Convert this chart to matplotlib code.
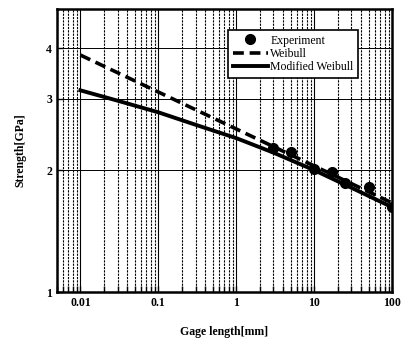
import matplotlib
matplotlib.use("Agg")
import matplotlib.pyplot as plt
from matplotlib.ticker import FixedLocator, FixedFormatter, LogLocator, NullFormatter, NullLocator

plt.rcParams['font.family'] = ['Liberation Serif', 'DejaVu Serif']

# measured strengths
exp_len = [3, 5, 10, 17, 25, 50, 100]
exp_str = [2.27, 2.22, 2.01, 1.98, 1.86, 1.82, 1.62]

# Weibull prediction
wb_len = [0.01, 100]
wb_str = [3.85, 1.66]

# modified Weibull prediction
mwb_len = [0.01, 0.03, 0.1, 0.3, 1, 3, 10, 30, 100]
mwb_str = [3.15, 2.97, 2.78, 2.59, 2.40, 2.21, 2.00, 1.81, 1.62]

xticks = [0.01, 0.1, 1, 10, 100]
xtick_labels = ['0.01', '0.1', '1', '10', '100']
yticks = [1, 2, 3, 4]
ytick_labels = ['1', '2', '3', '4']

fig = plt.figure(figsize=(4.01, 3.38), dpi=100)
ax = fig.add_axes([0.142, 0.136, 0.836, 0.837])

ax.set_xscale('log')
ax.set_yscale('log')
ax.set_xlim(0.005, 100)
ax.set_ylim(1, 5)

ax.plot(exp_len, exp_str, 'o', color='black', markersize=7, label='Experiment', zorder=5)
ax.plot(wb_len, wb_str, '--', color='black', linewidth=2.6, dashes=(3, 1.6), label='Weibull', zorder=4)
ax.plot(mwb_len, mwb_str, '-', color='black', linewidth=2.8, label='Modified Weibull', zorder=4)

ax.xaxis.set_major_locator(FixedLocator(xticks))
ax.xaxis.set_major_formatter(FixedFormatter(xtick_labels))
ax.xaxis.set_minor_locator(LogLocator(base=10, subs=range(2, 10)))
ax.xaxis.set_minor_formatter(NullFormatter())
ax.yaxis.set_major_locator(FixedLocator(yticks))
ax.yaxis.set_major_formatter(FixedFormatter(ytick_labels))
ax.yaxis.set_minor_locator(NullLocator())

# dense grid: solid at decades, dashed at the minor positions
ax.grid(True, which='major', axis='x', color='black', linewidth=0.8)
ax.grid(True, which='minor', axis='x', color='black', linewidth=0.8, linestyle=(0, (2, 1)))
ax.grid(True, which='major', axis='y', color='black', linewidth=0.7)

ax.tick_params(which='both', direction='in', labelsize=8.5, width=1, length=4)
for lab in ax.get_xticklabels() + ax.get_yticklabels():
    lab.set_fontweight('bold')
for sp in ax.spines.values():
    sp.set_linewidth(1.8)

ax.set_xlabel('Gage length[mm]', fontsize=8.5, fontweight='bold', labelpad=12)
ax.set_ylabel('Strength[GPa]', fontsize=8.5, fontweight='bold', labelpad=14)

leg = ax.legend(loc='upper left', bbox_to_anchor=(0.51, 0.927), fontsize=8.5, frameon=True,
                fancybox=False, framealpha=1, edgecolor='black', borderpad=0.4,
                handlelength=3.0, handletextpad=0.2, labelspacing=0.12, borderaxespad=0)
leg.get_frame().set_linewidth(1.2)

fig.savefig('out.png', dpi=100)
